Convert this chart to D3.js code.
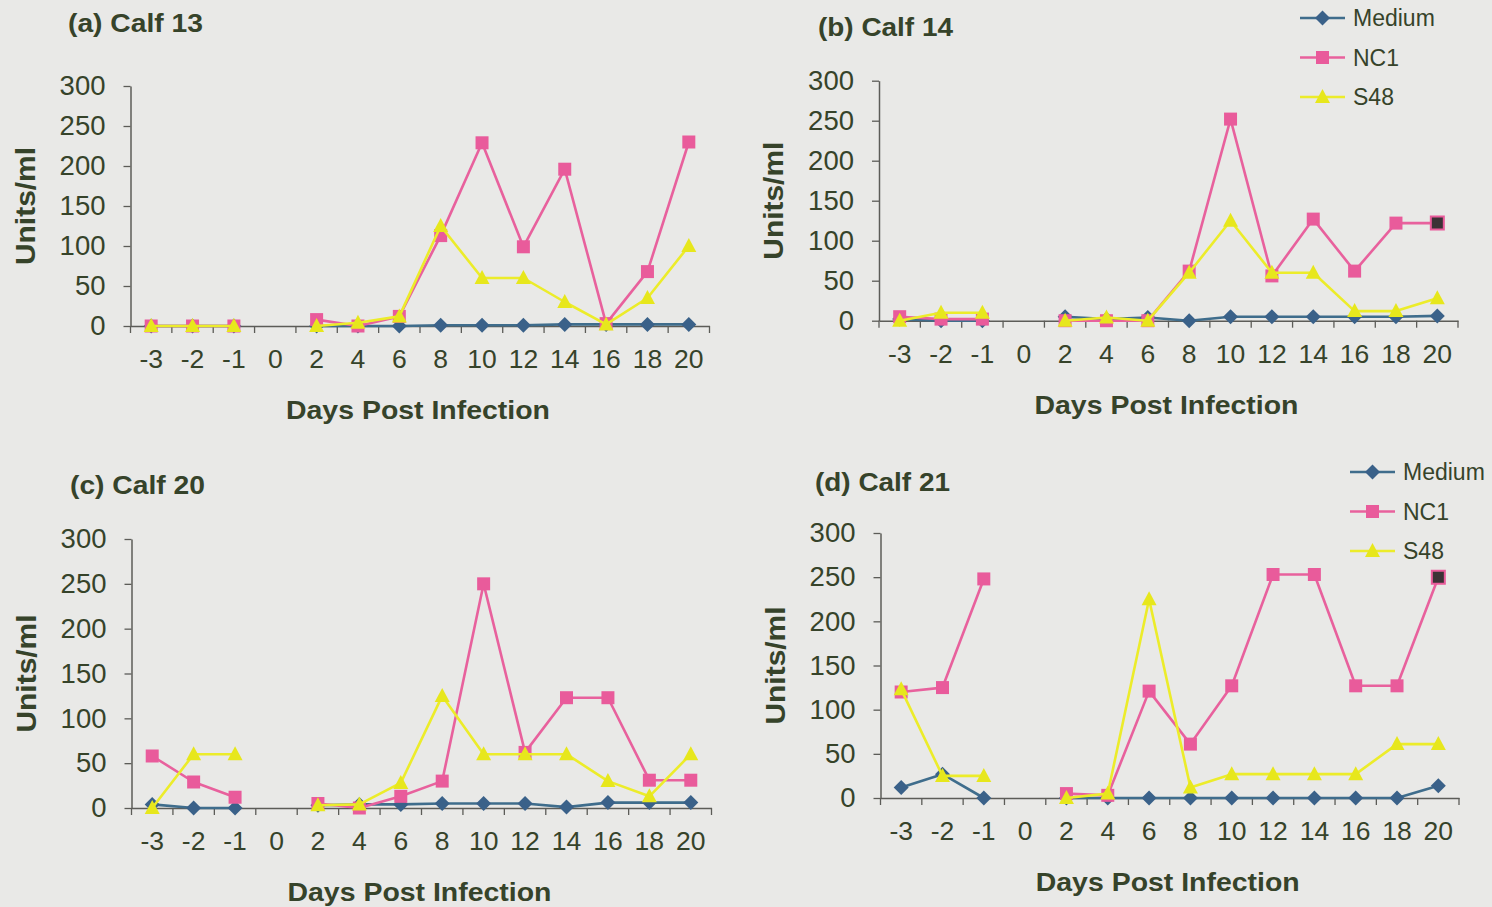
<!DOCTYPE html>
<html>
<head>
<meta charset="utf-8">
<script src="https://cdn.jsdelivr.net/npm/d3@7"></script>
<style>
  html, body { margin: 0; padding: 0; background: #e9e9e7; }
  svg { display: block; }
  text { font-family: "Liberation Sans", Arial, sans-serif; fill: #36432a; }
</style>
</head>
<body>
<svg id="chart" width="1492" height="907"></svg>
<script>
// Days sampled (no sample on day 0)
const days = ["-3", "-2", "-1", "0", "2", "4", "6", "8", "10", "12", "14", "16", "18", "20"];
const yTicks = [0, 50, 100, 150, 200, 250, 300];
const seriesNames = ["Medium", "NC1", "S48"];
const panelTitles = ["(a) Calf 13", "(b) Calf 14", "(c) Calf 20", "(d) Calf 21"];

// Units/ml per day
const calf13Medium = [0, 0, 0, null, 0, 0, 0, 1, 1, 1, 2, 2, 2, 2];
const calf13NC1    = [0, 0, 0, null, 8, 0, 12, 113, 229, 99, 196, 3, 68, 230];
const calf13S48    = [0, 0, 0, null, 0, 4, 12, 125, 60, 60, 30, 2, 35, 100];

const calf14Medium = [2, 0, 0, null, 5, 2, 4, 0, 5, 5, 5, 5, 5, 6];
const calf14NC1    = [5, 2, 2, null, 0, 0, 0, 62, 252, 56, 127, 62, 122, 122];
const calf14S48    = [0, 10, 10, null, 0, 4, 0, 60, 125, 60, 60, 12, 12, 28];

const calf20Medium = [4, 0, 0, null, 3, 4, 4, 5, 5, 5, 1, 6, 6, 6];
const calf20NC1    = [58, 29, 12, null, 5, 0, 13, 30, 250, 62, 123, 123, 31, 31];
const calf20S48    = [0, 60, 60, null, 3, 4, 28, 125, 60, 60, 60, 30, 13, 60];

const calf21Medium = [12, 27, 0, null, 0, 0, 0, 0, 0, 0, 0, 0, 0, 14];
const calf21NC1    = [120, 125, 248, null, 5, 3, 121, 61, 127, 253, 253, 127, 127, 250];
const calf21S48    = [123, 25, 25, null, 0, 5, 225, 12, 27, 27, 27, 27, 61, 61];

const panelData = [
  [calf13Medium, calf13NC1, calf13S48],
  [calf14Medium, calf14NC1, calf14S48],
  [calf20Medium, calf20NC1, calf20S48],
  [calf21Medium, calf21NC1, calf21S48]
];

// Layout of each panel (pixels)
const layout = [
  { x0: 130.5, x1: 709.5, y0: 326, yTop: 86, titleX: 68, titleY: 32, legend: null, darkLast: false },
  { x0: 879, x1: 1458, y0: 320.7, yTop: 80.7, titleX: 818, titleY: 36, legend: { x: 1300, y: 18 }, darkLast: true },
  { x0: 131.5, x1: 711.5, y0: 808, yTop: 539, titleX: 70, titleY: 494, legend: null, darkLast: false },
  { x0: 880.5, x1: 1459, y0: 798, yTop: 533, titleX: 815, titleY: 491, legend: { x: 1350, y: 472 }, darkLast: true }
];

const styles = [
  { line: "#3f6d8c", fill: "#3a6189", shape: "diamond" },
  { line: "#e8619d", fill: "#e95b9b", shape: "square" },
  { line: "#ecec2a", fill: "#e7e71c", shape: "triangle" }
];

const axisColor = "#5c5c58";
const tickFont = 27.5;

function markerPath(shape) {
  if (shape === "square") { const h = 6.5; return `M${-h},${-h}H${h}V${h}H${-h}Z`; }
  if (shape === "diamond") { const h = 7.5; return `M0,${-h}L${h},0L0,${h}L${-h},0Z`; }
  const w = 7.5, t = 8, b = 6; return `M0,${-t}L${w},${b}L${-w},${b}Z`;
}

const svg = d3.select("#chart");
svg.append("rect").attr("width", 1492).attr("height", 907).attr("fill", "#e9e9e7");

layout.forEach((L, pi) => {
  const g = svg.append("g");
  const x = d3.scaleBand().domain(days).range([L.x0, L.x1]);
  const y = d3.scaleLinear().domain([0, 300]).range([L.y0, L.yTop]);
  const cx = d => x(d) + x.bandwidth() / 2;

  // y axis
  const yAxis = g.append("g").attr("transform", `translate(${L.x0},0)`)
    .call(d3.axisLeft(y).tickValues(yTicks).tickSize(7).tickSizeOuter(0).tickPadding(18));
  yAxis.select(".domain").attr("stroke", axisColor).attr("stroke-width", 1.5);
  yAxis.selectAll(".tick line").attr("stroke", axisColor).attr("stroke-width", 1.3);
  yAxis.selectAll(".tick text").attr("font-size", tickFont).attr("fill", "#3c4632")
    .style("font-family", "'Liberation Sans', Arial, sans-serif");

  // x axis: labels centred in categories, ticks on category boundaries
  const xAxis = g.append("g").attr("transform", `translate(0,${L.y0})`)
    .call(d3.axisBottom(x).tickSize(0).tickPadding(0));
  xAxis.select(".domain").attr("stroke", axisColor).attr("stroke-width", 1.5);
  xAxis.selectAll(".tick text").attr("y", 42).attr("dy", 0).attr("font-size", tickFont - 1)
    .attr("fill", "#3c4632").style("font-family", "'Liberation Sans', Arial, sans-serif");
  const bounds = days.map(d => x(d)).concat([L.x1]);
  xAxis.selectAll(".bound").data(bounds).join("line").attr("class", "bound")
    .attr("x1", d => d).attr("x2", d => d).attr("y1", 0).attr("y2", 7)
    .attr("stroke", axisColor).attr("stroke-width", 1.3);

  // titles
  g.append("text").attr("x", L.titleX).attr("y", L.titleY)
    .attr("font-size", 26).attr("font-weight", "bold").attr("textLength", 135)
    .attr("lengthAdjust", "spacingAndGlyphs").text(panelTitles[pi]);
  g.append("text").attr("x", (L.x0 + L.x1) / 2 - 2).attr("y", L.y0 + 93)
    .attr("text-anchor", "middle").attr("font-size", 26).attr("font-weight", "bold")
    .attr("textLength", 264).attr("lengthAdjust", "spacingAndGlyphs")
    .text("Days Post Infection");
  g.append("text")
    .attr("transform", `translate(${L.x0 - 96},${(L.y0 + L.yTop) / 2}) rotate(-90)`)
    .attr("text-anchor", "middle").attr("font-size", 28).attr("font-weight", "bold")
    .attr("textLength", 118).attr("lengthAdjust", "spacingAndGlyphs")
    .text("Units/ml");

  // series
  panelData[pi].forEach((vals, si) => {
    const st = styles[si];
    const pts = days.map((d, i) => ({ d, v: vals[i], i }));
    const line = d3.line().defined(p => p.v !== null).x(p => cx(p.d)).y(p => y(p.v));
    g.append("path").datum(pts).attr("d", line).attr("fill", "none")
      .attr("stroke", st.line).attr("stroke-width", 2.6).attr("stroke-linejoin", "round");
    g.selectAll(null).data(pts.filter(p => p.v !== null)).join("path")
      .attr("d", markerPath(st.shape))
      .attr("transform", p => `translate(${cx(p.d)},${y(p.v)})`)
      .attr("fill", p => (L.darkLast && si === 1 && p.i === days.length - 1) ? "#3b3236" : st.fill)
      .attr("stroke", p => (L.darkLast && si === 1 && p.i === days.length - 1) ? st.fill : "none")
      .attr("stroke-width", 2);
  });

  // legend
  if (L.legend) {
    seriesNames.forEach((name, si) => {
      const st = styles[si];
      const ly = L.legend.y + si * 39.5;
      g.append("line").attr("x1", L.legend.x).attr("x2", L.legend.x + 45)
        .attr("y1", ly).attr("y2", ly).attr("stroke", st.line).attr("stroke-width", 2.6);
      g.append("path").attr("d", markerPath(st.shape))
        .attr("transform", `translate(${L.legend.x + 22.5},${ly})`).attr("fill", st.fill);
      g.append("text").attr("x", L.legend.x + 53).attr("y", ly + 8)
        .attr("font-size", 23).text(name);
    });
  }
});
</script>
</body>
</html>
